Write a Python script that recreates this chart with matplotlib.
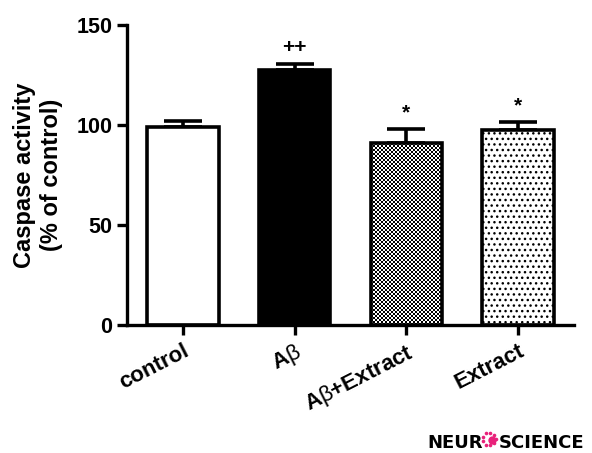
import numpy as np
import matplotlib.pyplot as plt

plt.rcParams["font.family"] = ["Liberation Sans", "DejaVu Sans"]
plt.rcParams["mathtext.fontset"] = "custom"
plt.rcParams["mathtext.rm"] = "Liberation Sans"
plt.rcParams["hatch.linewidth"] = 1.0

groups = ["control", r"A$\mathrm{\beta}$", r"A$\mathrm{\beta}$+Extract", "Extract"]
means = [99, 127.5, 91, 97.5]
sem = [3, 3, 7, 4]
marks = ["", "++", "*", "*"]


def checker_fill(ax, bar, cell=2):
    # fine black/white checkerboard clipped to the bar outline
    x0, y0 = bar.get_x(), bar.get_y()
    w, h = bar.get_width(), bar.get_height()
    p0 = ax.transData.transform((x0, y0))
    p1 = ax.transData.transform((x0 + w, y0 + h))
    nx = int(round(abs(p1[0] - p0[0]) / cell))
    ny = int(round(abs(p1[1] - p0[1]) / cell))
    yy, xx = np.indices((ny, nx))
    img = (xx + yy) % 2
    im = ax.imshow(img, cmap="gray", extent=(x0, x0 + w, y0, y0 + h),
                   interpolation="nearest", aspect="auto", zorder=1.5)
    im.set_clip_path(bar)


def main():
    fig = plt.figure(figsize=(5.92, 4.53), dpi=100)
    ax = fig.add_axes([0.2145, 0.2826, 0.7551, 0.6622])
    x = np.arange(len(groups))
    colors = ["white", "black", "none", "white"]
    ax.set_xlim(-0.5, 3.5)
    ax.set_ylim(0, 150)
    bars = ax.bar(x, means, width=0.64, color=colors, edgecolor="black",
                  linewidth=2.6, zorder=2)
    ax.errorbar(x, means, yerr=[np.zeros(len(sem)), sem], fmt="none",
                ecolor="black", elinewidth=2.6, capsize=13.5, capthick=2.6,
                zorder=1)
    ax.set_xlim(-0.5, 3.5)
    ax.set_ylim(0, 150)

    checker_fill(ax, bars[2])
    bars[3].set_hatch("...")

    for xi, m, s, t in zip(x, means, sem, marks):
        if t:
            ax.text(xi, m + s + 3.5, t, ha="center", va="bottom",
                    fontsize=15, fontweight="bold")

    ax.spines["top"].set_visible(False)
    ax.spines["right"].set_visible(False)
    for sp in ("left", "bottom"):
        ax.spines[sp].set_linewidth(2.4)
    ax.set_yticks([0, 50, 100, 150])
    ax.set_xticks(x)
    ax.set_xticklabels(groups, rotation=27, ha="right", rotation_mode="anchor")
    ax.tick_params(axis="both", width=2.4, length=7, labelsize=15.5)
    ax.tick_params(axis="x", labelsize=16, pad=4)
    for lab in ax.get_xticklabels() + ax.get_yticklabels():
        lab.set_fontweight("bold")
    ax.set_ylabel("Caspase activity\n(% of control)", fontsize=17,
                  fontweight="bold", linespacing=1.2, labelpad=10)

    # journal mark in the lower right corner
    fig.text(0.722, 0.012, "NEUR", fontsize=13, fontweight="bold",
             family="DejaVu Sans", va="baseline")
    fig.text(0.842, 0.012, "SCIENCE", fontsize=13, fontweight="bold",
             family="DejaVu Sans", va="baseline")
    pink = "#e8217a"
    ang = np.linspace(0, 2 * np.pi, 9, endpoint=False)
    cx, cy, r = 489, 439, 6.5
    fig.add_artist(plt.Line2D(cx + r * np.cos(ang), 453 - cy + r * np.sin(ang),
                              transform=None, ls="none", marker="o",
                              ms=2.6, color=pink, mec="none"))
    fig.add_artist(plt.Line2D([cx + 2.5], [453 - cy - 1], transform=None,
                              ls="none", marker="o", ms=6, color=pink, mec="none"))

    fig.savefig("out.png", dpi=100)


if __name__ == "__main__":
    main()
